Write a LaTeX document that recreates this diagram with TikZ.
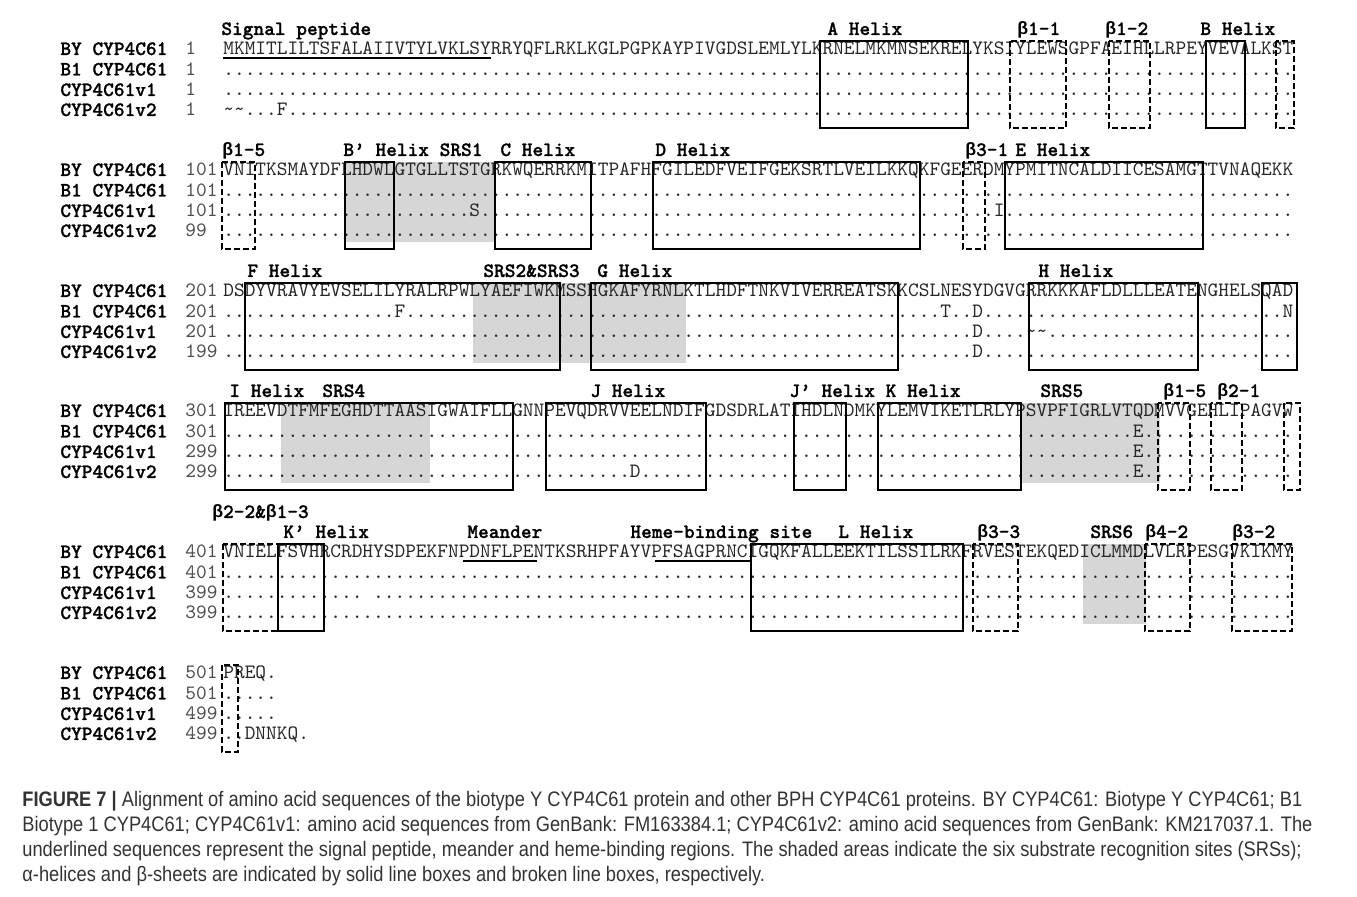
\documentclass[tikz,border=0pt]{standalone}
\usepackage{fontspec}
\newfontfamily\grkmono{Liberation Mono}
\newfontfamily\boldmono[FakeBold=1]{lmmonolt10-bold.otf}
\newfontfamily\capfont[FakeStretch=0.87]{Liberation Sans}

\ExplSyntaxOn
\cs_new:Npn \gapdots #1 {\prg_replicate:nn {#1} {.}}
\ExplSyntaxOff

\newcommand\seqfont{\ttfamily\fontsize{10.19}{12}\selectfont}
\newcommand\bsym{{\grkmono\bfseries\fontsize{8.92}{10}\selectfont β}}

\tikzset{
  seqtxt/.style={font=\seqfont, anchor=base west, inner sep=0pt, text=black!85},
  seqname/.style={font=\boldmono\fontsize{10.19}{12}\selectfont, anchor=base west, inner sep=0pt},
  seqnum/.style={font=\seqfont, anchor=base west, inner sep=0pt, text=black!70},
  featlabel/.style={font=\boldmono\fontsize{10.19}{12}\selectfont, anchor=base west, inner sep=0pt},
  helix/.style={draw, line width=1pt},
  sheet/.style={draw, line width=1.2pt, dash pattern=on 3pt off 1.5pt},
  srs/.style={fill=black!16},
  uline/.style={line width=1.2pt},
  capline/.style={font=\capfont\fontsize{10.5}{12}\selectfont, anchor=base west, inner sep=0pt, text=black!80}
}

% one line of the alignment: id, baseline, name, start number, residues
\newcommand\alnrow[5]{%
  \node[seqname] (name#1) at (60,#2) {#3};
  \node[seqnum] (num#1) at (185,#2) {#4};
  \node[seqtxt] (seq#1) at (223,#2) {#5};}

\begin{document}
\begin{tikzpicture}[x=0.5pt,y=-0.5pt]
    \useasboundingbox (0,0) rectangle (1357,897);

    % substrate recognition sites
    \fill[srs] (345,162) rectangle (494,242);
    \fill[srs] (473,283) rectangle (686,363);
    \fill[srs] (281,403) rectangle (430,483);
    \fill[srs] (1020,403) rectangle (1160,483);
    \fill[srs] (1083,544) rectangle (1146,624);

    % block 1
    \node[featlabel] (sp) at (221,35) {Signal peptide};
    \node[featlabel] (hA) at (827,35) {A Helix};
    \node[featlabel] (b11) at (1017,35) {\bsym1-1};
    \node[featlabel] (b12) at (1105,35) {\bsym1-2};
    \node[featlabel] (hB) at (1200,35) {B Helix};
    \alnrow{1by}{55}{BY CYP4C61}{1}{MKMITLILTSFALAIIVTYLVKLSYRRYQFLRKLKGLPGPKAYPIVGDSLEMLYLKRNELMKMNSEKRELYKSIYLEWSGPFAEIHLLRPEYVEVALKST}
    \alnrow{1b1}{75.5}{B1 CYP4C61}{1}{\gapdots{100}}
    \alnrow{1v1}{96}{CYP4C61v1}{1}{\gapdots{100}}
    \alnrow{1v2}{116}{CYP4C61v2}{1}{\textasciitilde\textasciitilde...F\gapdots{94}}
    \draw[uline] (223,58) -- (491,58);
    \draw[helix] (820,41) rectangle (968,128);
    \draw[sheet] (1010,41) rectangle (1066,128);
    \draw[sheet] (1109,41) rectangle (1150,128);
    \draw[helix] (1206,41) rectangle (1245,128);
    \draw[sheet] (1276,41) rectangle (1294,128);

    % block 2
    \node[featlabel] (b15) at (222,156) {\bsym1-5};
    \node[featlabel] (hBp) at (343,156) {B’ Helix SRS1};
    \node[featlabel] (hC) at (500,156) {C Helix};
    \node[featlabel] (hD) at (655,156) {D Helix};
    \node[featlabel] (b31) at (965,156) {\bsym3-1};
    \node[featlabel] (hE) at (1015,156) {E Helix};
    \alnrow{2by}{176}{BY CYP4C61}{101}{VNITKSMAYDFLHDWLGTGLLTSTGRKWQERRKMITPAFHFGILEDFVEIFGEKSRTLVEILKKQKFGEERDMYPMITNCALDIICESAMGTTVNAQEKK}
    \alnrow{2b1}{196.5}{B1 CYP4C61}{101}{\gapdots{100}}
    \alnrow{2v1}{217}{CYP4C61v1}{101}{\gapdots{23}S\gapdots{48}I\gapdots{27}}
    \alnrow{2v2}{237}{CYP4C61v2}{99}{\gapdots{100}}
    \draw[sheet] (222,162) rectangle (255,249);
    \draw[helix] (345,162) rectangle (394,249);
    \draw[helix] (495,162) rectangle (591,249);
    \draw[helix] (653,162) rectangle (920,249);
    \draw[sheet] (963,162) rectangle (985,249);
    \draw[helix] (1005,162) rectangle (1203,249);

    % block 3
    \node[featlabel] (hF) at (247,277) {F Helix};
    \node[featlabel] (srs23) at (483,277) {SRS2\&SRS3};
    \node[featlabel] (hG) at (597,277) {G Helix};
    \node[featlabel] (hH) at (1038,277) {H Helix};
    \alnrow{3by}{297}{BY CYP4C61}{201}{DSDYVRAVYEVSELILYRALRPWLYAEFIWKMSSHGKAFYRNLKTLHDFTNKVIVERREATSKKCSLNESYDGVGRRKKKAFLDLLLEATENGHELSQAD}
    \alnrow{3b1}{317.5}{B1 CYP4C61}{201}{\gapdots{16}F\gapdots{50}T\gapdots{2}D\gapdots{28}N}
    \alnrow{3v1}{338}{CYP4C61v1}{201}{\gapdots{70}D\gapdots{4}\textasciitilde\textasciitilde\gapdots{23}}
    \alnrow{3v2}{358}{CYP4C61v2}{199}{\gapdots{70}D\gapdots{29}}
    \draw[helix] (245,283) rectangle (560,370);
    \draw[helix] (591,283) rectangle (898,370);
    \draw[helix] (1029,283) rectangle (1198,370);
    \draw[helix] (1262,283) rectangle (1297,370);

    % block 4
    \node[featlabel] (hI) at (229,397) {I Helix};
    \node[featlabel] (srs4) at (322,397) {SRS4};
    \node[featlabel] (hJ) at (590,397) {J Helix};
    \node[featlabel] (hJK) at (789,397) {J’ Helix K Helix};
    \node[featlabel] (srs5) at (1040,397) {SRS5};
    \node[featlabel] (b15b) at (1163,397) {\bsym1-5};
    \node[featlabel] (b21) at (1217,397) {\bsym2-1};
    \alnrow{4by}{417}{BY CYP4C61}{301}{IREEVDTFMFEGHDTTAASIGWAIFLLGNNPEVQDRVVEELNDIFGDSDRLATIHDLNDMKYLEMVIKETLRLYPSVPFIGRLVTQDMVVGEHLIPAGVW}
    \alnrow{4b1}{437.5}{B1 CYP4C61}{301}{\gapdots{85}E\gapdots{14}}
    \alnrow{4v1}{458}{CYP4C61v1}{299}{\gapdots{85}E\gapdots{14}}
    \alnrow{4v2}{478}{CYP4C61v2}{299}{\gapdots{38}D\gapdots{46}E\gapdots{14}}
    \draw[helix] (225,403) rectangle (513,490);
    \draw[helix] (546,403) rectangle (706,490);
    \draw[helix] (794,403) rectangle (846,490);
    \draw[helix] (878,403) rectangle (1021,490);
    \draw[sheet] (1158,403) rectangle (1190,490);
    \draw[sheet] (1211,403) rectangle (1242,490);
    \draw[sheet] (1284,403) rectangle (1300,490);

    % block 5
    \node[featlabel] (b22) at (212,518) {\bsym2-2\&\bsym1-3};
    \node[featlabel] (hKp) at (283,538) {K’ Helix};
    \node[featlabel] (mea) at (467,538) {Meander};
    \node[featlabel] (heme) at (630,538) {Heme-binding site};
    \node[featlabel] (hL) at (838,538) {L Helix};
    \node[featlabel] (b33) at (977,538) {\bsym3-3};
    \node[featlabel] (srs6) at (1090,538) {SRS6};
    \node[featlabel] (b42) at (1145,538) {\bsym4-2};
    \node[featlabel] (b32) at (1232,538) {\bsym3-2};
    \alnrow{5by}{558}{BY CYP4C61}{401}{VNIELFSVHRCRDHYSDPEKFNPDNFLPENTKSRHPFAYVPFSAGPRNCIGQKFALLEEKTILSSILRKFRVESTEKQEDICLMMDLVLRPESGVKIKMY}
    \alnrow{5b1}{578.5}{B1 CYP4C61}{401}{\gapdots{100}}
    \alnrow{5v1}{599}{CYP4C61v1}{399}{\gapdots{13}\ \gapdots{86}}
    \alnrow{5v2}{619}{CYP4C61v2}{399}{\gapdots{100}}
    \draw[uline] (463,561) -- (537,561);
    \draw[uline] (655,561) -- (750,561);
    \draw[sheet] (223,544) rectangle (278,631);
    \draw[helix] (278,544) rectangle (324,631);
    \draw[helix] (751,544) rectangle (963,631);
    \draw[sheet] (973,544) rectangle (1018,631);
    \draw[sheet] (1145,544) rectangle (1190,631);
    \draw[sheet] (1232,544) rectangle (1292,631);

    % block 6
    \alnrow{6by}{679}{BY CYP4C61}{501}{PREQ.}
    \alnrow{6b1}{699.5}{B1 CYP4C61}{501}{.....}
    \alnrow{6v1}{720}{CYP4C61v1}{499}{.....}
    \alnrow{6v2}{740}{CYP4C61v2}{499}{..DNNKQ.}
    \draw[sheet] (222,665) rectangle (238,752);

    % caption
    \node[capline] (cap1) at (22,807) {{\bfseries FIGURE 7 |} Alignment of amino acid sequences of the biotype Y CYP4C61 protein and other BPH CYP4C61 proteins. BY CYP4C61: Biotype Y CYP4C61; B1};
    \node[capline] (cap2) at (22,832) {Biotype 1 CYP4C61; CYP4C61v1: amino acid sequences from GenBank: FM163384.1; CYP4C61v2: amino acid sequences from GenBank: KM217037.1. The};
    \node[capline] (cap3) at (22,857) {underlined sequences represent the signal peptide, meander and heme-binding regions. The shaded areas indicate the six substrate recognition sites (SRSs);};
    \node[capline] (cap4) at (22,882) {α-helices and β-sheets are indicated by solid line boxes and broken line boxes, respectively.};
\end{tikzpicture}
\end{document}
